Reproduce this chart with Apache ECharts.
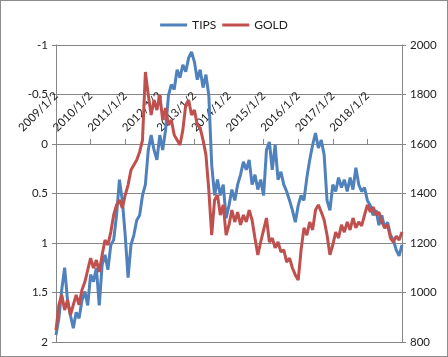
<!DOCTYPE html>
<html><head><meta charset="utf-8">
<script src="https://cdn.jsdelivr.net/npm/echarts@6/dist/echarts.min.js"></script>
<style>
html,body{margin:0;padding:0;background:#fff}
#wrap{width:448px;height:357px;box-sizing:border-box;border:1px solid #8c8c8c;}
#c{width:446px;height:355px;}
</style></head><body><div id="wrap"><div id="c"></div></div>
<script>
// monthly sample dates, 2009/1/2 .. 2019/1/2
const startYear = 2009;
const categories = [];
for (let i = 0; i <= 120; i++) {
  categories.push((startYear + Math.floor(i / 12)) + '/' + (i % 12 + 1) + '/2');
}
const yearTickLabels = ['2009/1/2','2010/1/2','2011/1/2','2012/1/2','2013/1/2','2014/1/2','2015/1/2','2016/1/2','2017/1/2','2018/1/2'];

// TIPS yield (%), left inverted axis
const tips = [
  1.93,1.76,1.47,1.25,1.58,1.73,1.86,1.70,1.76,1.58,1.49,1.63,
  1.32,1.39,1.25,1.63,1.22,1.12,1.27,1.02,0.97,0.72,0.36,0.57,
  0.92,1.35,1.02,0.92,0.77,0.72,0.52,0.41,0.06,-0.09,0.06,0.16,
  -0.09,0.06,-0.14,-0.49,-0.60,-0.55,-0.75,-0.67,-0.80,-0.73,-0.87,-0.93,
  -0.83,-0.65,-0.75,-0.57,-0.70,-0.49,0.21,0.52,0.36,0.52,0.41,0.75,
  0.62,0.46,0.57,0.41,0.31,0.18,0.26,0.16,0.41,0.31,0.46,0.36,
  0.52,0.06,-0.02,0.26,0.01,0.36,0.28,0.41,0.48,0.57,0.67,0.79,
  0.62,0.52,0.57,0.34,0.16,0.01,-0.11,0.04,-0.04,0.11,0.57,0.67,
  0.41,0.48,0.34,0.44,0.36,0.48,0.34,0.46,0.24,0.41,0.48,0.44,
  0.57,0.62,0.72,0.67,0.82,0.72,0.85,0.79,0.92,0.97,1.07,1.13,
  1.02
];

// Gold price (USD), right axis
const gold = [
  848,950,990,929,970,909,950,990,950,1010,1042,1091,
  1139,1099,1131,1083,1152,1212,1192,1244,1313,1354,1374,1341,
  1394,1434,1495,1515,1535,1568,1616,1891,1798,1717,1778,1737,
  1798,1697,1745,1677,1697,1636,1616,1596,1657,1758,1778,1717,
  1737,1677,1665,1616,1556,1414,1232,1374,1394,1313,1354,1232,
  1273,1333,1285,1325,1273,1313,1285,1333,1293,1220,1152,1204,
  1253,1301,1204,1220,1180,1204,1164,1172,1123,1139,1099,1071,
  1050,1172,1261,1232,1285,1253,1333,1354,1325,1293,1232,1152,
  1192,1244,1220,1273,1244,1285,1253,1301,1261,1285,1269,1313,
  1354,1325,1345,1313,1325,1285,1261,1273,1220,1204,1228,1212,
  1244
];

const FONT = 'Lato, sans-serif';
const FS = 11.5;
const AXIS = '#868686';
const isYearStart = (i) => i % 12 === 0 && i < 120;
const chart = echarts.init(document.getElementById('c'));
chart.setOption({
  animation: false,
  backgroundColor: '#fff',
  textStyle: { fontFamily: FONT },
  legend: {
    top: 13, left: 'center',
    itemWidth: 27, itemHeight: 3, itemGap: 6,
    icon: 'rect',
    textStyle: { fontFamily: FONT, fontSize: 12, color: '#222' },
    data: ['TIPS', 'GOLD']
  },
  grid: { left: 55, right: 45, top: 44, bottom: 14, containLabel: false },
  xAxis: {
    type: 'category',
    position: 'top',
    offset: -99,
    boundaryGap: false,
    data: categories,
    axisLine: { onZero: false, lineStyle: { color: AXIS, width: 1 } },
    axisTick: { show: true, length: 5, interval: isYearStart, lineStyle: { color: AXIS } },
    axisLabel: {
      interval: isYearStart,
      formatter: (v, i) => yearTickLabels[Math.floor(i / 12)],
      rotate: -45, align: 'right', verticalAlign: 'middle', margin: 50,
      fontFamily: FONT, fontSize: FS, color: '#222'
    },
    splitLine: { show: false }
  },
  yAxis: [
    {
      type: 'value', inverse: true, min: -1, max: 2, interval: 0.5,
      position: 'left',
      axisLine: { show: true, lineStyle: { color: AXIS } },
      axisTick: { show: true, length: 4, lineStyle: { color: AXIS } },
      axisLabel: { margin: 8, fontFamily: FONT, fontSize: FS, color: '#222' },
      splitLine: { show: true, lineStyle: { color: AXIS, width: 1 } }
    },
    {
      type: 'value', min: 800, max: 2000, interval: 200,
      position: 'right',
      axisLine: { show: true, lineStyle: { color: AXIS } },
      axisTick: { show: true, length: 4, lineStyle: { color: AXIS } },
      axisLabel: { margin: 8, fontFamily: FONT, fontSize: FS, color: '#222', formatter: (v) => String(v) },
      splitLine: { show: false }
    }
  ],
  series: [
    {
      name: 'TIPS', type: 'line', yAxisIndex: 0, data: tips,
      showSymbol: false, symbol: 'none',
      itemStyle: { color: '#4F81BD' },
      lineStyle: { color: '#4F81BD', width: 3 }
    },
    {
      name: 'GOLD', type: 'line', yAxisIndex: 1, data: gold,
      showSymbol: false, symbol: 'none',
      itemStyle: { color: '#C0504D' },
      lineStyle: { color: '#C0504D', width: 3 }
    }
  ]
});
</script></body></html>
